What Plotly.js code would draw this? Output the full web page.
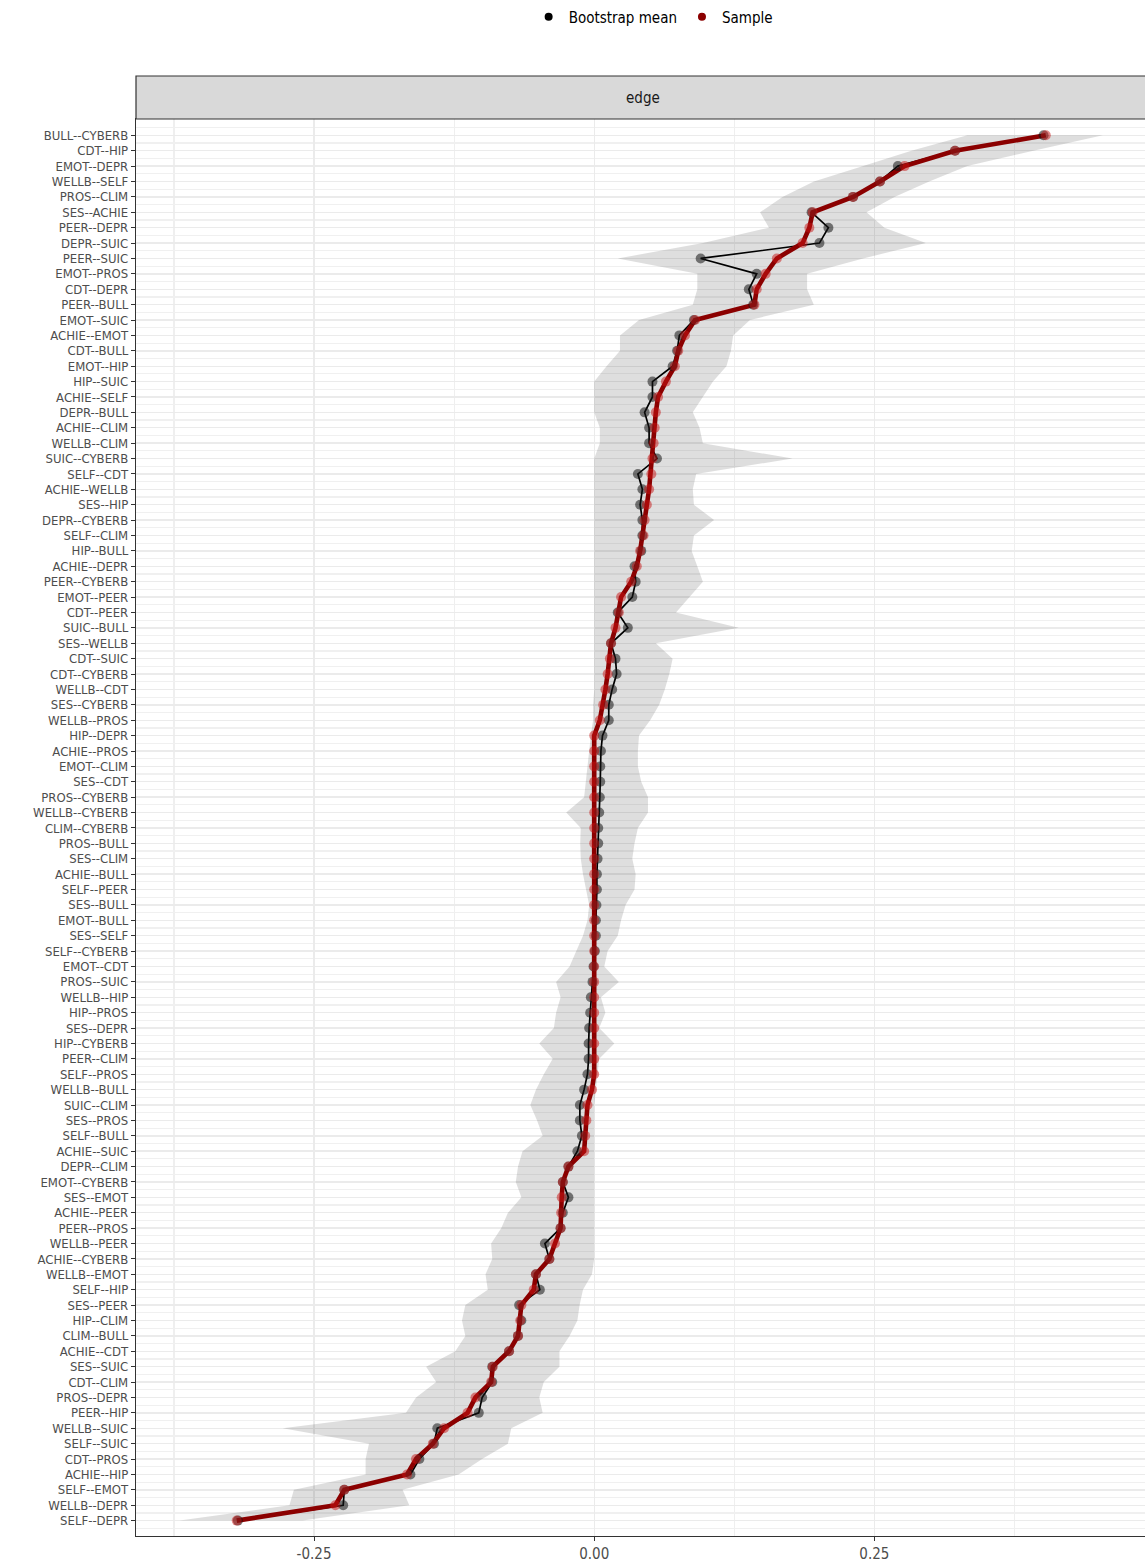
<!DOCTYPE html>
<html>
<head>
<meta charset="utf-8">
<script src="https://cdn.plot.ly/plotly-3.0.1.min.js"></script>
<style>
html,body{margin:0;padding:0;overflow:hidden;background:#ffffff;}
#chart{width:1170px;height:1564px;}
</style>
</head>
<body>
<div id="chart"></div>
<script>
// Edge labels (top to bottom)
const edges = [
"BULL--CYBERB","CDT--HIP","EMOT--DEPR","WELLB--SELF","PROS--CLIM","SES--ACHIE","PEER--DEPR","DEPR--SUIC","PEER--SUIC","EMOT--PROS",
"CDT--DEPR","PEER--BULL","EMOT--SUIC","ACHIE--EMOT","CDT--BULL","EMOT--HIP","HIP--SUIC","ACHIE--SELF","DEPR--BULL","ACHIE--CLIM",
"WELLB--CLIM","SUIC--CYBERB","SELF--CDT","ACHIE--WELLB","SES--HIP","DEPR--CYBERB","SELF--CLIM","HIP--BULL","ACHIE--DEPR","PEER--CYBERB",
"EMOT--PEER","CDT--PEER","SUIC--BULL","SES--WELLB","CDT--SUIC","CDT--CYBERB","WELLB--CDT","SES--CYBERB","WELLB--PROS","HIP--DEPR",
"ACHIE--PROS","EMOT--CLIM","SES--CDT","PROS--CYBERB","WELLB--CYBERB","CLIM--CYBERB","PROS--BULL","SES--CLIM","ACHIE--BULL","SELF--PEER",
"SES--BULL","EMOT--BULL","SES--SELF","SELF--CYBERB","EMOT--CDT","PROS--SUIC","WELLB--HIP","HIP--PROS","SES--DEPR","HIP--CYBERB",
"PEER--CLIM","SELF--PROS","WELLB--BULL","SUIC--CLIM","SES--PROS","SELF--BULL","ACHIE--SUIC","DEPR--CLIM","EMOT--CYBERB","SES--EMOT",
"ACHIE--PEER","PEER--PROS","WELLB--PEER","ACHIE--CYBERB","WELLB--EMOT","SELF--HIP","SES--PEER","HIP--CLIM","CLIM--BULL","ACHIE--CDT",
"SES--SUIC","CDT--CLIM","PROS--DEPR","PEER--HIP","WELLB--SUIC","SELF--SUIC","CDT--PROS","ACHIE--HIP","SELF--EMOT","WELLB--DEPR",
"SELF--DEPR"
];

// Sample edge weights (red)
const sampleVals = [
0.403,0.322,0.277,0.255,0.231,0.195,0.192,0.186,0.163,0.153,
0.145,0.143,0.090,0.081,0.075,0.072,0.064,0.057,0.055,0.054,
0.053,0.052,0.051,0.049,0.047,0.045,0.044,0.041,0.038,0.033,
0.024,0.022,0.019,0.015,0.014,0.012,0.010,0.008,0.005,0,
0,0,0,0,0,0,0,0,0,0,
0,0,0,0,0,0,0,0,0,0,
0,0,-0.002,-0.006,-0.007,-0.008,-0.009,-0.023,-0.028,-0.029,
-0.0295,-0.030,-0.035,-0.040,-0.052,-0.054,-0.065,-0.066,-0.068,-0.076,
-0.0905,-0.092,-0.106,-0.113,-0.134,-0.144,-0.159,-0.167,-0.223,-0.231,
-0.319
];

// Bootstrap mean (black)
const bootMean = [
0.401,0.322,0.271,0.255,0.231,0.194,0.209,0.201,0.095,0.145,
0.138,0.142,0.089,0.076,0.074,0.070,0.052,0.052,0.045,0.049,
0.049,0.056,0.039,0.043,0.041,0.043,0.043,0.042,0.036,0.037,
0.034,0.021,0.030,0.015,0.019,0.020,0.016,0.013,0.013,0.0074,
0.006,0.0054,0.0054,0.005,0.0045,0.0036,0.0036,0.003,0.0024,0.0024,
0.002,0.0015,0.0015,0.0006,-0.0006,-0.0015,-0.003,-0.0036,-0.0045,-0.005,
-0.005,-0.006,-0.009,-0.0128,-0.0128,-0.011,-0.015,-0.023,-0.028,-0.023,
-0.028,-0.030,-0.044,-0.040,-0.052,-0.0485,-0.067,-0.065,-0.068,-0.076,
-0.091,-0.091,-0.100,-0.103,-0.140,-0.143,-0.156,-0.164,-0.223,-0.224,
-0.318
];

// Bootstrap CI lower bound
const ciLower = [
0.333,0.283,0.240,0.196,0.168,0.148,0.156,0.097,0.021,0.092,
0.092,0.088,0.040,0.023,0.023,0.011,0.000,0.000,0.000,0.005,
0.005,0.000,0.000,0.000,0.000,0.000,0.000,0.000,0.000,0.000,
0.000,0.000,0.000,0.000,0.000,0.000,0.000,-0.001,-0.001,-0.003,
-0.0045,-0.006,-0.0075,-0.009,-0.025,-0.012,-0.0125,-0.012,-0.010,-0.0075,
-0.0045,-0.006,-0.010,-0.016,-0.022,-0.034,-0.030,-0.034,-0.036,-0.049,
-0.037,-0.045,-0.052,-0.057,-0.051,-0.046,-0.064,-0.068,-0.070,-0.065,
-0.077,-0.083,-0.092,-0.091,-0.097,-0.095,-0.115,-0.118,-0.115,-0.124,
-0.150,-0.141,-0.159,-0.168,-0.278,-0.201,-0.204,-0.204,-0.268,-0.272,
-0.370
];

// Bootstrap CI upper bound
const ciUpper = [
0.454,0.392,0.333,0.299,0.268,0.243,0.259,0.296,0.240,0.190,
0.190,0.196,0.139,0.124,0.122,0.118,0.106,0.097,0.088,0.094,
0.097,0.177,0.091,0.088,0.089,0.107,0.089,0.087,0.092,0.097,
0.085,0.073,0.129,0.055,0.070,0.067,0.063,0.058,0.050,0.040,
0.039,0.039,0.042,0.048,0.048,0.039,0.036,0.034,0.037,0.036,
0.028,0.024,0.021,0.012,0.009,0.022,0.006,0.010,0.0045,0.018,
0.0045,0.003,0.0015,0.000,0.000,0.000,0.000,0.000,0.000,0.000,
0.000,0.000,0.000,0.000,-0.002,-0.010,-0.013,-0.015,-0.022,-0.031,
-0.031,-0.045,-0.049,-0.046,-0.074,-0.077,-0.100,-0.121,-0.171,-0.165,
-0.260
];

const xTickVals = [-0.25, 0, 0.25];
const xTickText = ["-0.25", "0.00", "0.25"];
const legendNames = ["Bootstrap mean", "Sample"];
const stripLabel = "edge";

const FONT = "'Liberation Sans Narrow', 'Arial Narrow', 'DejaVu Sans Condensed', 'Liberation Sans', Arial, sans-serif";

const idx = edges.map((_, i) => i);
const halfIdx = [-1].concat(idx).map(i => i + 0.5);

const ribbon = {
  type: "scatter", mode: "lines",
  x: ciLower.concat(ciUpper.slice().reverse()),
  y: idx.concat(idx.slice().reverse()),
  fill: "toself", fillcolor: "rgba(0,0,0,0.13)",
  line: {width: 0, color: "rgba(0,0,0,0)"},
  hoverinfo: "skip", showlegend: false
};
const meanLine = {
  type: "scatter", mode: "lines", x: bootMean, y: idx,
  line: {color: "#000000", width: 1.7}, showlegend: false, hoverinfo: "skip"
};
const sampleLine = {
  type: "scatter", mode: "lines", x: sampleVals, y: idx,
  line: {color: "#8B0000", width: 4.6}, showlegend: false, hoverinfo: "skip"
};
const meanPts = {
  type: "scatter", mode: "markers", x: bootMean, y: idx,
  marker: {color: "rgba(20,20,20,0.55)", size: 10, line: {width: 0}},
  showlegend: false
};
const samplePts = {
  type: "scatter", mode: "markers", x: sampleVals, y: idx,
  marker: {color: "rgba(200,20,20,0.5)", size: 10, line: {width: 0}},
  showlegend: false
};
const legMean = {
  type: "scatter", mode: "markers", x: [null], y: [null], name: legendNames[0],
  marker: {color: "#000000", size: 8}
};
const legSample = {
  type: "scatter", mode: "markers", x: [null], y: [null], name: legendNames[1],
  marker: {color: "#8B0000", size: 8}
};

const plotH = 1564 - 119 - 28;

const layout = {
  width: 1170, height: 1564,
  margin: {l: 136, r: 20, t: 119, b: 28, pad: 0, autoexpand: false},
  paper_bgcolor: "#ffffff", plot_bgcolor: "#ffffff",
  font: {family: FONT, color: "#4D4D4D"},
  showlegend: true,
  legend: {
    orientation: "h", x: 0.51, xanchor: "center",
    y: 1 + (119 - 17) / plotH, yanchor: "middle",
    font: {family: FONT, size: 15, color: "#000000"},
    itemwidth: 30, bgcolor: "rgba(0,0,0,0)"
  },
  xaxis: {
    range: [-0.4089, 0.496],
    tickmode: "array", tickvals: xTickVals, ticktext: xTickText,
    showgrid: true, gridcolor: "#EBEBEB", gridwidth: 1.4,
    minor: {tickmode: "array", tickvals: [-0.375, -0.125, 0.125, 0.375], showgrid: true, gridcolor: "#EFEFEF", gridwidth: 1.2, ticks: ""},
    zeroline: false,
    showline: true, mirror: true, linecolor: "#333333", linewidth: 1.2,
    ticks: "outside", ticklen: 4, tickcolor: "#333333", tickwidth: 1,
    tickfont: {family: FONT, size: 15, color: "#4D4D4D"}
  },
  yaxis: {
    range: [91.0, -1.06],
    tickmode: "array", tickvals: idx, ticktext: edges,
    showgrid: true, gridcolor: "#EBEBEB", gridwidth: 1.4,
    minor: {tickmode: "array", tickvals: halfIdx, showgrid: true, gridcolor: "#F0F0F0", gridwidth: 1.2, ticks: ""},
    zeroline: false,
    showline: true, mirror: true, linecolor: "#333333", linewidth: 1.2,
    ticks: "outside", ticklen: 4, tickcolor: "#333333", tickwidth: 1,
    tickfont: {family: FONT, size: 13, color: "#4D4D4D"}
  },
  shapes: [{
    type: "rect", xref: "paper", yref: "paper",
    x0: 0, x1: 1, y0: 1, y1: 1 + 43 / plotH,
    fillcolor: "#D9D9D9", line: {color: "#333333", width: 1.2}, layer: "above"
  }],
  annotations: [{
    xref: "paper", yref: "paper", x: 0.5, y: 1 + 21.5 / plotH,
    xanchor: "center", yanchor: "middle", showarrow: false,
    text: stripLabel, font: {family: FONT, size: 15, color: "#1A1A1A"}
  }]
};

Plotly.newPlot("chart", [ribbon, meanLine, sampleLine, meanPts, samplePts, legMean, legSample], layout, {displayModeBar: false, staticPlot: true});
</script>
</body>
</html>
